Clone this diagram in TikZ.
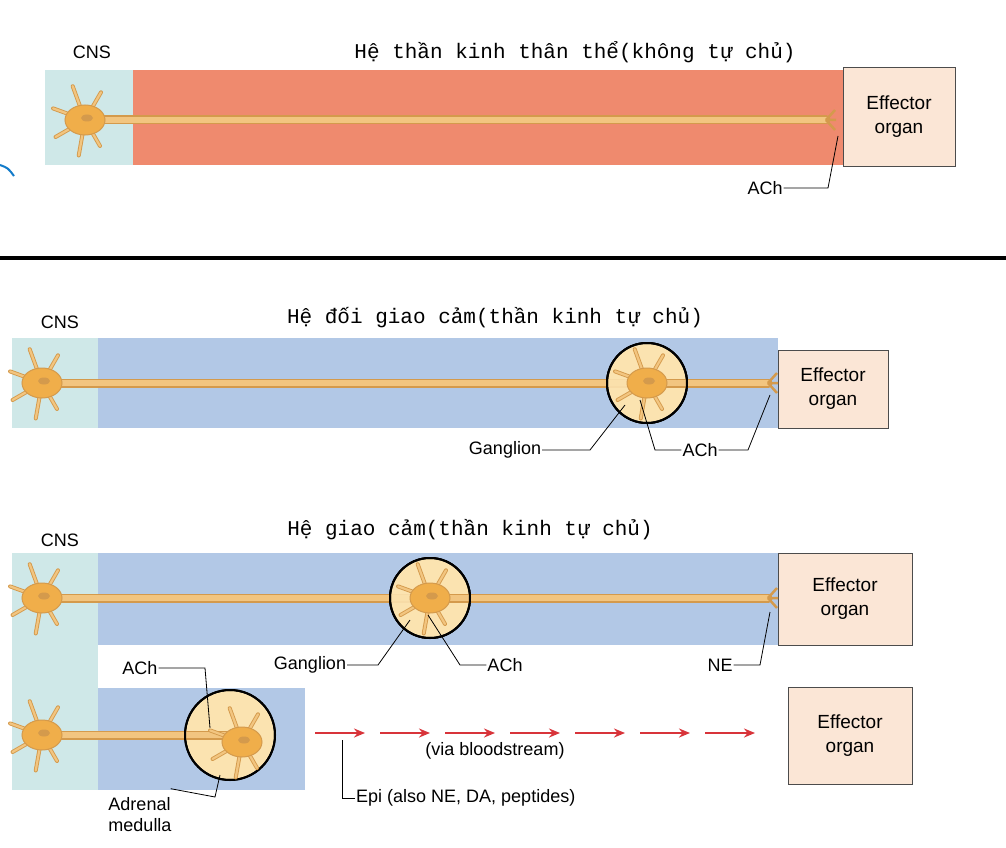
\documentclass[tikz,border=0pt]{standalone}
\usepackage{fontspec}
\setmainfont{Liberation Sans}
\newfontfamily\monof{Liberation Mono}
\usetikzlibrary{arrows.meta}
\definecolor{cnsc}{HTML}{CFE8E8}
\definecolor{redc}{HTML}{EF8A6E}
\definecolor{bluec}{HTML}{B2C8E6}
\definecolor{effc}{HTML}{FBE6D6}
\definecolor{axc}{HTML}{F2C580}
\definecolor{axd}{HTML}{D49A4C}
\definecolor{somac}{HTML}{F0AE4A}
\definecolor{gangc}{HTML}{FBE3B0}
\definecolor{arrc}{HTML}{D8343A}
\tikzset{
  lbl/.style={font=\fontsize{18}{21}\selectfont, inner sep=1pt},
  ttl/.style={font=\monof\fontsize{21}{24}\selectfont, inner sep=1pt},
  eff/.style={draw=black!70, fill=effc, line width=0.8pt, align=center, font=\fontsize{19}{24}\selectfont},
  axon/.style={draw=axd, line width=9pt, line cap=round},
  axonin/.style={draw=axc, line width=6pt, line cap=round},
  lead/.style={draw=black, line width=0.8pt},
  gang/.style={draw=black, line width=2pt, fill=gangc},
  neuron/.pic={
    \foreach \a/\l in {100/36,150/34,200/34,250/36,300/32,60/30}{
      \draw[axd, line width=4pt, line cap=round] (0,0) -- (\a:\l);
      \draw[axc, line width=2.2pt, line cap=round] (0,0) -- (\a:\l);
    }
    \fill[somac, draw=axd, line width=1pt] (0,0) ellipse (20pt and 15pt);
    \fill[axd] (2,-2) ellipse (6pt and 3.5pt);
  },
  term/.pic={
    \draw[axd, line width=2.5pt] (0,0) -- (9,-10) (0,0) -- (9,10) (0,0)--(10,0);
  }
}
\begin{document}
\begin{tikzpicture}[x=1pt,y=-1pt]
\useasboundingbox (0,0) rectangle (1006,848);
\fill[white] (0,0) rectangle (1006,848);
% Panel 1
\fill[cnsc] (45,70) rectangle (133,165);
\fill[redc] (133,70) rectangle (843,165);
\node[eff, minimum width=112pt, minimum height=99pt] (e1) at (899,117) {Effector\\organ};
\node[lbl] (cns1) at (92,52) {CNS};
\node[ttl] (t1) at (575,52) {Hệ thần kinh thân thể(không tự chủ)};
\coordinate (s1) at (85,120);
\coordinate (x1) at (826,120);
\draw[axon] (s1) -- (x1); \draw[axonin] (s1) -- (x1);
\pic at (s1) {neuron};
\pic at (x1) {term};
\node[lbl] (ach1) at (765,188) {ACh};
\draw[lead] (ach1.east) -- (828,188) -- (838,136);
\draw[cyan!60!blue, line width=2pt] (0,165) .. controls (8,168) .. (14,176);
\draw[black, line width=4pt] (0,258) -- (1006,258);
% Panel 2
\fill[cnsc] (12,338) rectangle (98,428);
\fill[bluec] (98,338) rectangle (778,428);
\node[eff, minimum width=110pt, minimum height=78pt] (e2) at (833,389) {Effector\\organ};
\node[lbl] (cns2) at (60,322) {CNS};
\node[ttl] (t2) at (495,318) {Hệ đối giao cảm(thần kinh tự chủ)};
\coordinate (s2) at (42,383);
\node[gang, circle, minimum size=80pt] (g2) at (647,383) {};
\coordinate (x2) at (768,383);
\draw[axon] (s2) -- (x2); \draw[axonin] (s2) -- (x2);
\node[gang, circle, minimum size=80pt, fill=gangc, opacity=0.9] at (g2) {};
\draw[axon] (g2.center) -- (x2); \draw[axonin] (g2.center) -- (x2);
\node[gang, circle, minimum size=80pt, fill=none] at (g2) {};
\pic at (g2.center) {neuron};
\pic at (s2) {neuron};
\pic at (x2) {term};
\node[lbl] (gl2) at (505,450) {Ganglion};
\draw[lead] (gl2.east) -- (590,450) -- (625,405);
\node[lbl] (ach2) at (700,450) {ACh};
\draw[lead] (ach2.west) -- (655,450) -- (640,400);
\draw[lead] (ach2.east) -- (748,450) -- (770,395);
% Panel 3
\fill[cnsc] (12,553) rectangle (98,790);
\fill[bluec] (98,553) rectangle (778,645);
\fill[bluec] (98,688) rectangle (305,790);
\node[eff, minimum width=134pt, minimum height=92pt] (e3) at (845,599) {Effector\\organ};
\node[eff, minimum width=124pt, minimum height=97pt] (e4) at (850,736) {Effector\\organ};
\node[lbl] (cns3) at (60,540) {CNS};
\node[ttl] (t3) at (470,530) {Hệ giao cảm(thần kinh tự chủ)};
\coordinate (s3) at (42,598);
\node[gang, circle, minimum size=80pt] (g3) at (430,598) {};
\coordinate (x3) at (768,598);
\draw[axon] (s3) -- (x3); \draw[axonin] (s3) -- (x3);
\node[gang, circle, minimum size=80pt, opacity=0.9] at (g3) {};
\draw[axon] (g3.center) -- (x3); \draw[axonin] (g3.center) -- (x3);
\node[gang, circle, minimum size=80pt, fill=none] at (g3) {};
\pic at (g3.center) {neuron};
\pic at (s3) {neuron};
\pic at (x3) {term};
\node[lbl] (gl3) at (310,665) {Ganglion};
\draw[lead] (gl3.east) -- (378,665) -- (410,620);
\node[lbl] (ach3) at (505,665) {ACh};
\draw[lead] (ach3.west) -- (460,665) -- (428,615);
\node[lbl] (ne3) at (720,665) {NE};
\draw[lead] (ne3.east) -- (760,665) -- (770,612);
% adrenal
\coordinate (s4) at (42,735);
\node[gang, circle, minimum size=90pt] (g4) at (230,735) {};
\draw[axon] (s4) -- (g4.center); \draw[axonin] (s4) -- (g4.center);
\node[gang, circle, minimum size=90pt, fill=none] at (g4) {};
\pic at (s4) {neuron};
\pic at (242,742) {neuron};
\node[lbl] (ach4) at (140,668) {ACh};
\draw[lead] (ach4.east) -- (205,668) -- (210,728);
\foreach \x in {315,380,445,510,575,640,705}{
  \draw[arrc, line width=2.5pt, -{Stealth[length=11pt,width=9pt]}] (\x,733) -- (\x+50,733);
}
\node[lbl] (via) at (495,751) {(via bloodstream)};
\node[lbl, align=left] (adr) at (140,815) {Adrenal\\medulla};
\draw[lead] (adr.north east) ++(-2,-8) coordinate (ac) -- (215,797) -- (220,775);
\node[lbl, anchor=west] (epi) at (355,798) {Epi (also NE, DA, peptides)};
\draw[lead] (epi.west) -- (342,798) -- (342,740);
\end{tikzpicture}
\end{document}
